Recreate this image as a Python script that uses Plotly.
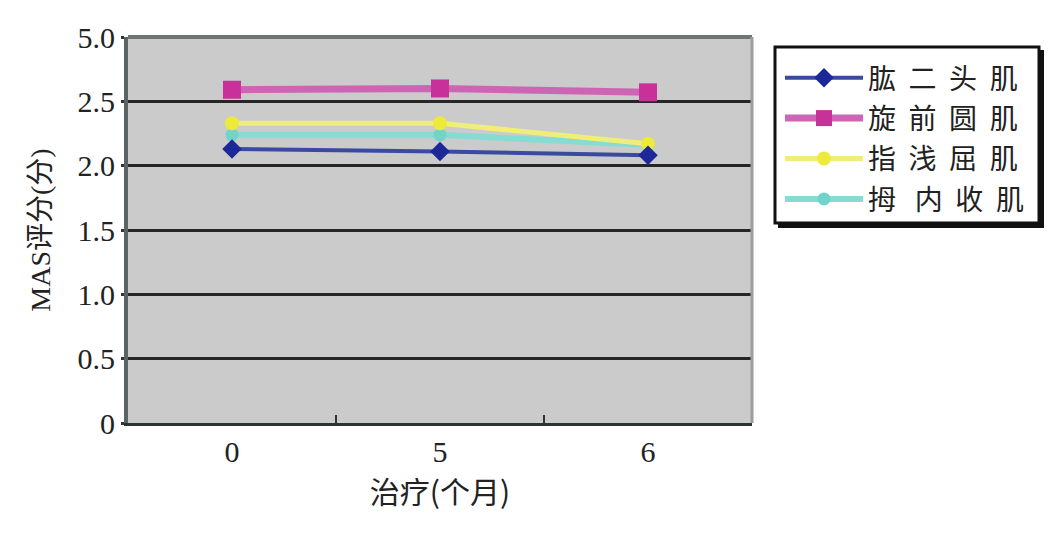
import plotly.graph_objects as go

months = ["0", "5", "6"]
series_names = ["肱  二  头  肌", "旋  前  圆  肌", "指  浅  屈  肌", "拇   内  收  肌"]
biceps = [2.13, 2.11, 2.08]
pronator = [2.59, 2.60, 2.57]
flexor = [2.33, 2.33, 2.17]
adductor = [2.24, 2.24, 2.16]
y_ticks = [0, 0.5, 1.0, 1.5, 2.0, 2.5, 3.0]
y_ticktext = ["0", "0.5", "1.0", "1.5", "2.0", "2.5", "5.0"]

serif = "Liberation Serif, Noto Sans CJK SC"
cjk = "Noto Sans CJK SC"

fig = go.Figure()
# drawing order: cyan, yellow, blue, magenta; legend order via legendrank
fig.add_trace(go.Scatter(x=months, y=adductor, name=series_names[3], mode="lines+markers",
                         line=dict(color="#86dcd2", width=6),
                         marker=dict(symbol="circle", size=13, color="#70d4c8"),
                         legendrank=4, legendgroup="d"))
fig.add_trace(go.Scatter(x=months, y=flexor, name=series_names[2], mode="lines+markers",
                         line=dict(color="#eeee78", width=5),
                         marker=dict(symbol="circle", size=14, color="#eeea3c"),
                         legendrank=3, legendgroup="c"))
fig.add_trace(go.Scatter(x=months, y=biceps, name=series_names[0], mode="lines+markers",
                         line=dict(color="#3a4aa0", width=4),
                         marker=dict(symbol="diamond", size=15, color="#1c2898"),
                         legendrank=1, legendgroup="a"))
fig.add_trace(go.Scatter(x=months, y=pronator, name=series_names[1], mode="lines+markers",
                         line=dict(color="#cc66b4", width=7),
                         marker=dict(symbol="square", size=18, color="#c8309a"),
                         legendrank=2, legendgroup="b"))

# legend box with shadow (pixel positions converted to paper coords)
L, R, T, B = 128, 752, 37, 423
W, H = R - L, B - T
def px(x):
    return (x - L) / W
def py(y):
    return (B - y) / H

shapes = [
    dict(type="rect", xref="paper", yref="paper", x0=px(778), x1=px(1044), y0=py(228), y1=py(50),
         fillcolor="#111111", line=dict(width=0), layer="above"),
    dict(type="rect", xref="paper", yref="paper", x0=px(775), x1=px(1039), y0=py(223), y1=py(47),
         fillcolor="white", line=dict(color="#111111", width=3), layer="above"),
    # top border of plot area
    dict(type="line", xref="paper", yref="paper", x0=0, x1=1, y0=1, y1=1,
         line=dict(color="#6c7676", width=4), layer="above"),
    # right border
    dict(type="line", xref="paper", yref="paper", x0=1, x1=1, y0=0, y1=1,
         line=dict(color="#9a9e9e", width=3), layer="above"),
]

fig.update_layout(
    width=1062, height=533,
    margin=dict(l=L, r=1062 - R, t=T, b=533 - B, autoexpand=False),
    paper_bgcolor="white",
    plot_bgcolor="#cbcbcb",
    shapes=shapes,
    showlegend=True,
    legend=dict(x=px(780), y=py(53), xanchor="left", yanchor="top",
                bgcolor="rgba(0,0,0,0)", borderwidth=0,
                font=dict(family=cjk, size=28, color="#222222"),
                itemwidth=78, tracegroupgap=1, traceorder="grouped"),
    xaxis=dict(type="category", range=[-0.5, 2.5], tickson="boundaries", ticks="inside", ticklen=8,
               tickwidth=2, tickcolor="#2a3434", automargin=False,
               showgrid=False, showline=True, linecolor="#2a3434", linewidth=3,
               tickfont=dict(family=serif, size=30, color="#222222"),
               title=dict(text="治疗(个月)", font=dict(family=cjk, size=30, color="#222222"), standoff=14),
               zeroline=False),
    yaxis=dict(range=[0, 3], tickvals=y_ticks, ticktext=y_ticktext, automargin=False,
               showgrid=True, gridcolor="#262626", gridwidth=3,
               ticks="outside", ticklen=3, tickwidth=3, tickcolor="#333333",
               showline=True, linecolor="#5a6464", linewidth=4,
               tickfont=dict(family=serif, size=30, color="#222222"),
               title=dict(text="MAS评分(分)", font=dict(family=serif, size=28, color="#222222"), standoff=20),
               zeroline=False),
)

fig.write_html("out.html", post_script="document.body.style.margin='0';",
               config={"displayModeBar": False})
